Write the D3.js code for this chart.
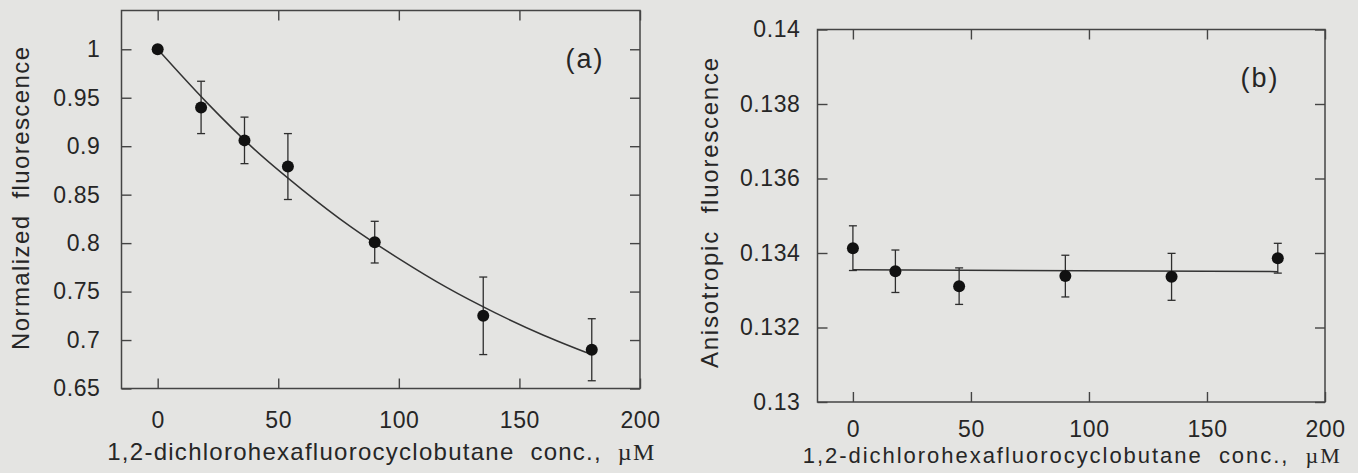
<!DOCTYPE html>
<html>
<head>
<meta charset="utf-8">
<script src="https://cdn.jsdelivr.net/npm/d3@7"></script>
<style>
  body { margin: 0; background: #e4e4e2; }
  svg { display: block; font-family: "Liberation Sans", Arial, Helvetica, sans-serif; }
  .tick text { font-size: 23px; fill: #262626; letter-spacing: 0.6px; }
  .tick line { stroke: #444; stroke-width: 1.4; }
  .title { fill: #262626; white-space: pre; }
</style>
</head>
<body>
<div id="chart"></div>
<script>
// panel (a) - normalized fluorescence
const concA = [0, 18, 36, 54, 90, 135, 180];
const fluorA = [1.0, 0.940, 0.906, 0.879, 0.801, 0.725, 0.690];
const errA = [0, 0.027, 0.024, 0.034, 0.0215, 0.040, 0.032];
// fitted curve
const fitAX = [0, 20, 40, 60, 80, 100, 120, 140, 160, 180];
const fitAY = [1.0, 0.946, 0.897, 0.855, 0.817, 0.784, 0.754, 0.728, 0.705, 0.685];

// panel (b) - anisotropic fluorescence
const concB = [0, 18, 45, 90, 135, 180];
const anisoB = [0.13413, 0.13351, 0.13311, 0.13338, 0.13336, 0.13386];
const errB = [0.0006, 0.00057, 0.00049, 0.00056, 0.00063, 0.0004];
const fitBX = [0, 180];
const fitBY = [0.13355, 0.1335];

// ticks
const xTicks = [0, 50, 100, 150, 200];
const xTickLabels = ["0", "50", "100", "150", "200"];
const yTicksA = [0.65, 0.7, 0.75, 0.8, 0.85, 0.9, 0.95, 1];
const yTickLabelsA = ["0.65", "0.7", "0.75", "0.8", "0.85", "0.9", "0.95", "1"];
const yTicksB = [0.13, 0.132, 0.134, 0.136, 0.138, 0.14];
const yTickLabelsB = ["0.13", "0.132", "0.134", "0.136", "0.138", "0.14"];

const width = 1358, height = 473;

let svg = d3.select("#chart")
  .append("svg")
    .attr("width", width)
    .attr("height", height);

function drawPanel(p) {
  const x = d3.scaleLinear().domain([-15, 200]).range([p.left, p.right]);
  const y = d3.scaleLinear().domain(p.yDomain).range([p.bottom, p.top]);
  const g = svg.append("g");

  // axes, ticks point inward
  g.append("g")
    .attr("transform", `translate(0,${p.bottom})`)
    .call(d3.axisBottom(x).tickValues(xTicks).tickSize(-10).tickPadding(p.xPad)
      .tickFormat((d, i) => xTickLabels[i]))
    .call(a => a.select(".domain").remove());
  g.append("g")
    .attr("transform", `translate(0,${p.top})`)
    .call(d3.axisTop(x).tickValues(xTicks).tickSize(-10).tickFormat(""))
    .call(a => a.select(".domain").remove());
  g.append("g")
    .attr("transform", `translate(${p.left},0)`)
    .call(d3.axisLeft(y).tickValues(p.yTicks).tickSize(-10).tickPadding(p.yPad)
      .tickFormat((d, i) => p.yLabels[i]))
    .call(a => a.select(".domain").remove());
  g.append("g")
    .attr("transform", `translate(${p.right},0)`)
    .call(d3.axisRight(y).tickValues(p.yTicks).tickSize(-10).tickFormat(""))
    .call(a => a.select(".domain").remove());

  g.selectAll(".tick text").attr("font-family", null).attr("font-size", null).attr("fill", null);

  // frame
  g.append("rect")
    .attr("x", p.left).attr("y", p.top)
    .attr("width", p.right - p.left).attr("height", p.bottom - p.top)
    .style("fill", "none")
    .style("stroke", "#444")
    .style("stroke-width", 1.5);

  // fit line
  const line = d3.line()
    .x(d => x(d[0]))
    .y(d => y(d[1]))
    .curve(d3.curveMonotoneX);
  g.append("path")
    .datum(p.fitX.map((v, i) => [v, p.fitY[i]]))
    .attr("d", line)
    .style("fill", "none")
    .style("stroke", "#333")
    .style("stroke-width", 1.5);

  // error bars
  const pts = p.xs.map((v, i) => ({x: v, y: p.ys[i], e: p.es[i]}));
  const bars = g.selectAll(".err")
    .data(pts.filter(d => d.e > 0))
    .join("g")
      .attr("class", "err")
      .style("stroke", "#2e2e2e")
      .style("stroke-width", 1.3);
  bars.append("line")
    .attr("x1", d => x(d.x)).attr("x2", d => x(d.x))
    .attr("y1", d => y(d.y - d.e)).attr("y2", d => y(d.y + d.e));
  bars.append("line")
    .attr("x1", d => x(d.x) - 4).attr("x2", d => x(d.x) + 4)
    .attr("y1", d => y(d.y + d.e)).attr("y2", d => y(d.y + d.e));
  bars.append("line")
    .attr("x1", d => x(d.x) - 4).attr("x2", d => x(d.x) + 4)
    .attr("y1", d => y(d.y - d.e)).attr("y2", d => y(d.y - d.e));

  // points
  g.selectAll("circle.pt")
    .data(pts)
    .join("circle")
      .attr("class", "pt")
      .attr("cx", d => x(d.x))
      .attr("cy", d => y(d.y))
      .attr("r", 6)
      .style("fill", "#111");

  // panel tag
  g.append("text")
    .attr("x", p.right - p.tagDx)
    .attr("y", p.top + 57)
    .attr("text-anchor", "middle")
    .style("font-size", "27px")
    .style("letter-spacing", "2px")
    .style("fill", "#262626")
    .text(p.tag);

  // x title
  const xt = g.append("text")
    .attr("class", "title")
    .style("font-size", p.titleSize + "px")
    .attr("x", (p.left + p.right) / 2)
    .attr("y", p.xTitleY)
    .attr("text-anchor", "middle")
    .attr("textLength", p.xTitleLen)
    .attr("lengthAdjust", "spacing");
  xt.append("tspan").text("1,2-dichlorohexafluorocyclobutane  conc.,  ");
  xt.append("tspan").style("font-family", "'Liberation Serif', 'Times New Roman', serif").text("\u00b5M");

  // y title
  g.append("text")
    .attr("class", "title")
    .style("font-size", "24px")
    .attr("transform", `translate(${p.yTitleX},${p.yTitleY}) rotate(-90)`)
    .attr("text-anchor", "middle")
    .attr("textLength", p.yTitleLen)
    .attr("lengthAdjust", "spacing")
    .text(p.yTitle);
}

drawPanel({
  left: 121.5, right: 640, top: 10.5, bottom: 388.5,
  yDomain: [0.65, 1.04], yTicks: yTicksA, yLabels: yTickLabelsA,
  xPad: 23, yPad: 21,
  xs: concA, ys: fluorA, es: errA, fitX: fitAX, fitY: fitAY,
  tag: "(a)", tagDx: 55,
  titleSize: 24, xTitleY: 460, xTitleLen: 547,
  yTitle: "Normalized  fluorescence", yTitleX: 29, yTitleY: 198.5, yTitleLen: 303
});

drawPanel({
  left: 817.5, right: 1325, top: 29.5, bottom: 402,
  yDomain: [0.13, 0.14], yTicks: yTicksB, yLabels: yTickLabelsB,
  xPad: 19, yPad: 17,
  xs: concB, ys: anisoB, es: errB, fitX: fitBX, fitY: fitBY,
  tag: "(b)", tagDx: 65,
  titleSize: 22, xTitleY: 462.5, xTitleLen: 537,
  yTitle: "Anisotropic  fluorescence", yTitleX: 718, yTitleY: 213, yTitleLen: 310
});
</script>
</body>
</html>
